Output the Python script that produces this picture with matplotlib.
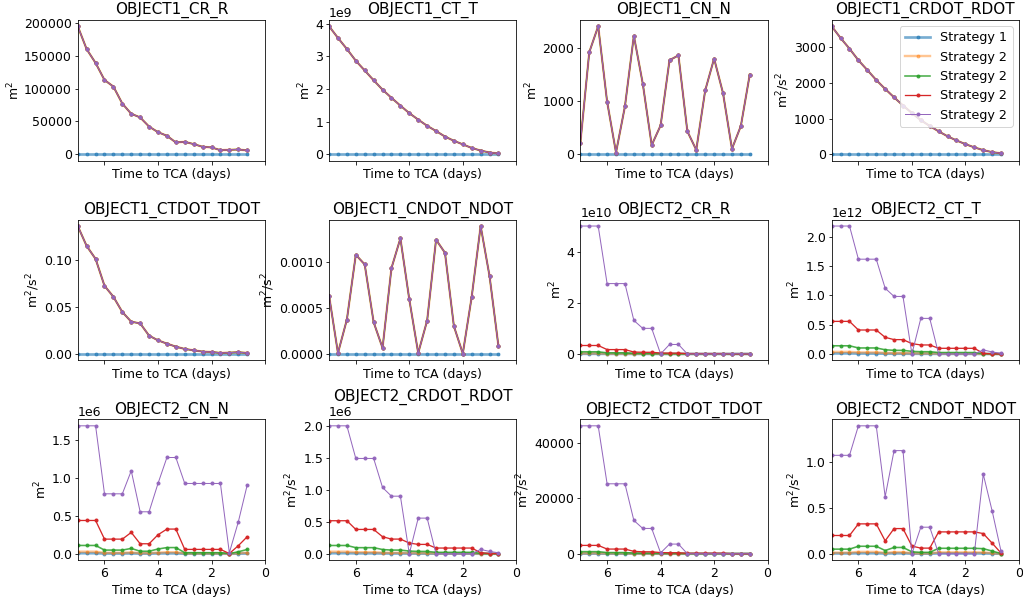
import matplotlib
matplotlib.use("Agg")
import matplotlib.pyplot as plt
import numpy as np

# time to closest approach for each CDM update (days)
time_to_tca = [7.0, 6.667, 6.333, 6.0, 5.667, 5.333, 5.0, 4.667, 4.333, 4.0,
               3.667, 3.333, 3.0, 2.667, 2.333, 2.0, 1.667, 1.333, 1.0, 0.667]

strategy_labels = ["Strategy 1", "Strategy 2", "Strategy 2", "Strategy 2", "Strategy 2"]

# OBJECT1: strategy 1 is zero, all strategy 2 runs coincide
obj1_zero = [0.0] * 20
obj1_cr_r = [195000, 160000, 139000, 113000, 103000, 77000, 61500, 56000, 42000, 33500,
             28000, 17800, 18800, 15300, 11200, 10200, 6100, 6600, 7100, 5600]
obj1_ct_t = np.array([3.93, 3.57, 3.23, 2.87, 2.57, 2.27, 1.98, 1.73, 1.49, 1.26,
                      1.06, 0.87, 0.71, 0.54, 0.41, 0.30, 0.19, 0.11, 0.05, 0.02]) * 1e9
obj1_cn_n = [210, 1920, 2410, 990, 30, 900, 2230, 1330, 170, 540,
             1770, 1860, 430, 80, 1200, 1800, 1150, 100, 530, 1500]
obj1_crdot_rdot = [3590, 3260, 2960, 2635, 2360, 2080, 1830, 1595, 1365, 1155,
                   955, 790, 640, 500, 384, 281, 190, 112, 56, 25]
obj1_ctdot_tdot = [0.1365, 0.1152, 0.1014, 0.0727, 0.061, 0.0447, 0.0344, 0.0326, 0.0195, 0.0145,
                   0.011, 0.0078, 0.0053, 0.0039, 0.0025, 0.0021, 0.0011, 0.0014, 0.0018, 0.0011]
obj1_cndot_ndot = [0.000634, 0.00001, 0.000373, 0.001076, 0.000971, 0.000344, 0.000065, 0.000931,
                   0.001254, 0.000591, 0.00001, 0.000362, 0.001239, 0.001098, 0.000301, 0.000004,
                   0.00062, 0.001388, 0.000844, 0.000083]

# OBJECT2: strategy 1, then four strategy 2 runs
obj2_cr_r = np.array([
    [0.005, 0.005, 0.005, 0.0027, 0.0027, 0.0027, 0.0012, 0.001, 0.001, 0.0005,
     0.0005, 0.0005, 0.0002, 0.0002, 0.0002, 0.0002, 0.0002, 0.0, 0.0, 0.0],
    [0.021, 0.021, 0.021, 0.011, 0.011, 0.011, 0.005, 0.004, 0.004, 0.002,
     0.002, 0.002, 0.001, 0.001, 0.001, 0.001, 0.001, 0.0, 0.0, 0.0],
    [0.083, 0.083, 0.083, 0.043, 0.043, 0.043, 0.019, 0.016, 0.016, 0.009,
     0.008, 0.008, 0.003, 0.003, 0.003, 0.003, 0.003, 0.0005, 0.0, 0.0],
    [0.33, 0.33, 0.33, 0.17, 0.17, 0.17, 0.075, 0.065, 0.065, 0.035,
     0.03, 0.03, 0.012, 0.012, 0.012, 0.012, 0.012, 0.002, 0.0, 0.0],
    [5.0, 5.0, 5.0, 2.75, 2.75, 2.75, 1.31, 1.0, 1.0, 0.0,
     0.37, 0.37, 0.0, 0.0, 0.0, 0.0, 0.0, 0.01, 0.005, 0.002],
]) * 1e10
obj2_ct_t = np.array([
    [0.009, 0.009, 0.009, 0.0065, 0.0065, 0.0065, 0.0045, 0.0038, 0.0038, 0.0028,
     0.0024, 0.0024, 0.0015, 0.0015, 0.0015, 0.0015, 0.0015, 0.0002, 0.0, 0.0],
    [0.035, 0.035, 0.035, 0.026, 0.026, 0.026, 0.018, 0.015, 0.015, 0.011,
     0.0096, 0.0096, 0.006, 0.006, 0.006, 0.006, 0.006, 0.001, 0.0, 0.0],
    [0.139, 0.139, 0.139, 0.102, 0.102, 0.102, 0.071, 0.061, 0.061, 0.044,
     0.038, 0.038, 0.024, 0.024, 0.024, 0.024, 0.024, 0.003, 0.0, 0.0],
    [0.555, 0.555, 0.555, 0.408, 0.408, 0.408, 0.283, 0.244, 0.244, 0.176,
     0.153, 0.153, 0.096, 0.096, 0.096, 0.096, 0.096, 0.01, 0.0, 0.0],
    [2.18, 2.18, 2.18, 1.615, 1.615, 1.615, 1.12, 0.98, 0.98, 0.0,
     0.606, 0.606, 0.0, 0.0, 0.0, 0.0, 0.0, 0.068, 0.034, 0.01],
]) * 1e12
obj2_cn_n = np.array([
    [0.0068, 0.0068, 0.0068, 0.003, 0.003, 0.003, 0.0044, 0.002, 0.002, 0.0039,
     0.005, 0.005, 0.0009, 0.0009, 0.0009, 0.0009, 0.0009, 0.0001, 0.0016, 0.0035],
    [0.027, 0.027, 0.027, 0.012, 0.012, 0.012, 0.0175, 0.008, 0.008, 0.0156,
     0.02, 0.02, 0.0036, 0.0036, 0.0036, 0.0036, 0.0036, 0.0002, 0.0066, 0.014],
    [0.109, 0.109, 0.109, 0.048, 0.048, 0.048, 0.07, 0.033, 0.033, 0.062,
     0.081, 0.081, 0.014, 0.014, 0.014, 0.014, 0.014, 0.001, 0.026, 0.056],
    [0.437, 0.437, 0.437, 0.192, 0.192, 0.192, 0.28, 0.131, 0.131, 0.249,
     0.324, 0.324, 0.057, 0.057, 0.057, 0.057, 0.057, 0.003, 0.105, 0.223],
    [1.68, 1.68, 1.68, 0.787, 0.787, 0.787, 1.089, 0.551, 0.551, 0.923,
     1.264, 1.264, 0.923, 0.923, 0.923, 0.923, 0.923, 0.013, 0.415, 0.90],
]) * 1e6
obj2_crdot_rdot = np.array([
    [0.008, 0.008, 0.008, 0.006, 0.006, 0.006, 0.004, 0.0036, 0.0036, 0.0026,
     0.0023, 0.0023, 0.0014, 0.0014, 0.0014, 0.0014, 0.0014, 0.0002, 0.0, 0.0],
    [0.032, 0.032, 0.032, 0.024, 0.024, 0.024, 0.017, 0.014, 0.014, 0.010,
     0.009, 0.009, 0.0055, 0.0055, 0.0055, 0.0055, 0.0055, 0.001, 0.0, 0.0],
    [0.129, 0.129, 0.129, 0.095, 0.095, 0.095, 0.066, 0.057, 0.057, 0.042,
     0.036, 0.036, 0.022, 0.022, 0.022, 0.022, 0.022, 0.004, 0.001, 0.0],
    [0.516, 0.516, 0.516, 0.38, 0.38, 0.38, 0.266, 0.229, 0.229, 0.167,
     0.146, 0.146, 0.089, 0.089, 0.089, 0.089, 0.089, 0.016, 0.003, 0.0],
    [2.0, 2.0, 2.0, 1.49, 1.49, 1.49, 1.036, 0.90, 0.90, 0.0,
     0.557, 0.557, 0.0, 0.0, 0.0, 0.0, 0.0, 0.068, 0.036, 0.015],
]) * 1e6
obj2_ctdot_tdot = np.array([
    [47, 47, 47, 26, 26, 26, 13, 11, 11, 7, 5.5, 5.5, 2.4, 2.4, 2.4, 2.4, 2.4, 0.3, 0, 0],
    [188, 188, 188, 105, 105, 105, 53, 44, 44, 26, 22, 22, 9, 9, 9, 9, 9, 1, 0, 0],
    [750, 750, 750, 420, 420, 420, 212, 175, 175, 105, 88, 88, 38, 38, 38, 38, 38, 5, 0, 0],
    [3000, 3000, 3000, 1680, 1680, 1680, 850, 700, 700, 420,
     350, 350, 150, 150, 150, 150, 150, 20, 0, 0],
    [46000, 46000, 46000, 25150, 25150, 25150, 11980, 9100, 9100, 300,
     3470, 3470, 0, 0, 0, 0, 0, 0, 0, 0],
])
obj2_cndot_ndot = np.array([
    [0.0031, 0.0031, 0.0031, 0.005, 0.005, 0.005, 0.0022, 0.0043, 0.0043, 0.0013,
     0.001, 0.001, 0.0037, 0.0037, 0.0037, 0.0037, 0.0037, 0.0034, 0.0018, 0.0001],
    [0.0124, 0.0124, 0.0124, 0.020, 0.020, 0.020, 0.0088, 0.017, 0.017, 0.0052,
     0.0038, 0.0038, 0.0148, 0.0148, 0.0148, 0.0148, 0.0148, 0.0137, 0.0072, 0.0005],
    [0.05, 0.05, 0.05, 0.081, 0.081, 0.081, 0.035, 0.068, 0.068, 0.021,
     0.015, 0.015, 0.059, 0.059, 0.059, 0.059, 0.059, 0.055, 0.029, 0.002],
    [0.198, 0.198, 0.198, 0.324, 0.324, 0.324, 0.14, 0.273, 0.273, 0.083,
     0.061, 0.061, 0.237, 0.237, 0.237, 0.237, 0.237, 0.219, 0.115, 0.007],
    [1.068, 1.068, 1.068, 1.388, 1.388, 1.388, 0.619, 1.119, 1.119, 0.0,
     0.288, 0.288, 0.0, 0.0, 0.0, 0.0, 0.0, 0.863, 0.464, 0.025],
])

panels = [
    ("OBJECT1_CR_R", "m$^2$", [obj1_zero] + [obj1_cr_r] * 4),
    ("OBJECT1_CT_T", "m$^2$", [obj1_zero] + [obj1_ct_t] * 4),
    ("OBJECT1_CN_N", "m$^2$", [obj1_zero] + [obj1_cn_n] * 4),
    ("OBJECT1_CRDOT_RDOT", "m$^2$/s$^2$", [obj1_zero] + [obj1_crdot_rdot] * 4),
    ("OBJECT1_CTDOT_TDOT", "m$^2$/s$^2$", [obj1_zero] + [obj1_ctdot_tdot] * 4),
    ("OBJECT1_CNDOT_NDOT", "m$^2$/s$^2$", [obj1_zero] + [obj1_cndot_ndot] * 4),
    ("OBJECT2_CR_R", "m$^2$", obj2_cr_r),
    ("OBJECT2_CT_T", "m$^2$", obj2_ct_t),
    ("OBJECT2_CN_N", "m$^2$", obj2_cn_n),
    ("OBJECT2_CRDOT_RDOT", "m$^2$/s$^2$", obj2_crdot_rdot),
    ("OBJECT2_CTDOT_TDOT", "m$^2$/s$^2$", obj2_ctdot_tdot),
    ("OBJECT2_CNDOT_NDOT", "m$^2$/s$^2$", obj2_cndot_ndot),
]

colors = ["C0", "C1", "C2", "C3", "C4"]
widths = [2.7, 2.4, 1.6, 1.3, 1.0]
alphas = [0.6, 0.45, 0.85, 1.0, 1.0]

# rendered at 72 dpi, so sizes below are in pixels
plt.rcParams["font.size"] = 12.5
plt.rcParams["ytick.major.pad"] = 2.5
fig, axes = plt.subplots(3, 4, figsize=(1023 / 72, 601 / 72), dpi=72, sharex=True)
fig.subplots_adjust(left=0.076, right=0.996, top=0.967, bottom=0.068,
                    wspace=0.342, hspace=0.42)

for ax, (title, unit, series) in zip(axes.flat, panels):
    for values, label, c, lw, a in zip(series, strategy_labels, colors, widths, alphas):
        ax.plot(time_to_tca, values, marker=".", markersize=6, color=c,
                linewidth=lw, alpha=a, label=label)
    ax.set_title(title, fontsize=15.3)
    ax.set_ylabel(unit, fontsize=12.5, labelpad=2)
    ax.set_xlabel("Time to TCA (days)", fontsize=12.5)

axes[0, 0].set_xlim(7, 0)
axes[0, 3].legend(loc="upper right", fontsize=12.7)

fig.savefig("out.png", dpi=72)
